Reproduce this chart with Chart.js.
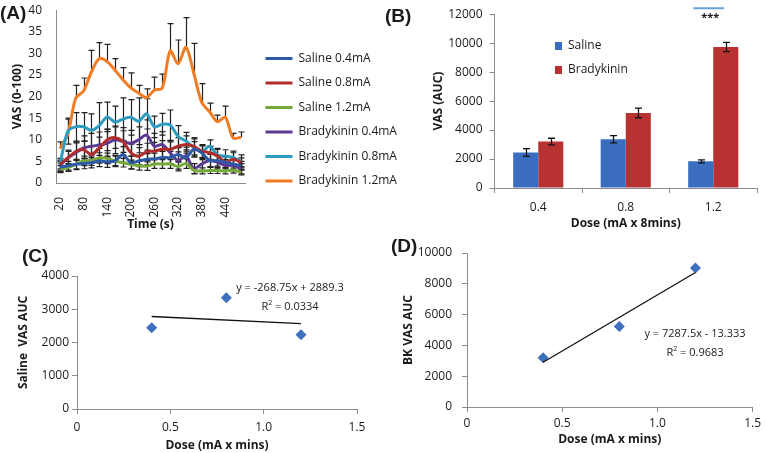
<!DOCTYPE html>
<html lang="en">
<head>
  <meta charset="UTF-8" />
  <title>VAS - saline vs bradykinin</title>
  <script src="https://cdn.jsdelivr.net/npm/chart.js"></script>
  <style>
    body { margin: 0; background: #fff; }
    #fig { position: relative; width: 765px; height: 453px; overflow: hidden; font-family: "Open Sans", sans-serif; color: #1a1a1a; }
    canvas { position: absolute; }
    .panel { position: absolute; font: bold 19px "Liberation Sans", Arial, sans-serif; line-height: 19px; }
    .eq { position: absolute; font-size: 11px; line-height: 16px; text-align: center; white-space: nowrap; }
  </style>
</head>
<body>
  <div id="fig">
    <canvas id="chartA" width="420" height="238" style="left:0;top:-3px"></canvas>
    <canvas id="chartB" width="385" height="235" style="left:380px;top:0"></canvas>
    <canvas id="chartC" width="380" height="218" style="left:0;top:235px"></canvas>
    <canvas id="chartD" width="385" height="218" style="left:380px;top:235px"></canvas>

    <div class="panel" style="left:0;top:3px">(A)</div>
    <div class="panel" style="left:385px;top:6px">(B)</div>
    <div class="panel" style="left:22px;top:246px">(C)</div>
    <div class="panel" style="left:391px;top:236px">(D)</div>

    <div class="eq" id="eqC" style="left:230px;top:279px;width:120px"></div>
    <div class="eq" id="eqD" style="left:635px;top:325px;width:120px"></div>
  </div>

  <script>
    // ---- (A) VAS over time ----
    const timeLabels = ['20','40','60','80','100','120','140','160','180','200','220','240',
                        '260','280','300','320','340','360','380','400','420','440','460','480'];
    const seriesNames = ['Saline 0.4mA', 'Saline 0.8mA', 'Saline 1.2mA',
                         'Bradykinin 0.4mA', 'Bradykinin 0.8mA', 'Bradykinin 1.2mA'];
    const saline04 = [3.6, 4, 4.3, 4.5, 4.7, 5.1, 4.9, 5.1, 6.6, 4.7, 5.1, 5.5, 5.6, 5.9, 5.9, 6.6, 5.9, 7.8, 7, 5.2, 5.2, 4.8, 4.4, 4];
    const saline08 = [4.3, 5.8, 7.3, 7.7, 6.6, 8.1, 10, 10.5, 9.6, 7, 6.2, 7.2, 7.4, 7.8, 7.8, 8.5, 8.9, 8.5, 7.4, 7, 6.3, 4.8, 5.5, 4.8];
    const saline12 = [3.2, 3.6, 4.3, 5.1, 5.2, 5.8, 5.7, 5.1, 4.7, 4.3, 4, 3.9, 4.4, 4.4, 4.4, 3.8, 4.5, 2.9, 2.8, 2.9, 2.9, 2.8, 3, 2.5];
    const bk04     = [4, 5.8, 7, 8.1, 8.5, 8.8, 9.2, 10, 9.6, 9.2, 10, 11.1, 8.5, 8.9, 7, 5.2, 6.3, 3.3, 4.4, 5.2, 4.8, 4.1, 4.1, 3.3];
    const bk08     = [4.2, 12, 13, 13, 12.2, 13.3, 15.3, 14.1, 14.8, 15.2, 14.3, 16, 13, 13.6, 13.4, 10.8, 9.7, 8.2, 7.2, 8.5, 6.5, 6.2, 5.9, 5];
    const bk12     = [8, 11.3, 19.6, 21.3, 25.7, 28.8, 28.1, 26.1, 23.9, 22, 20.8, 19.8, 21.5, 22, 30.6, 27.6, 31.4, 25.4, 18.7, 16.5, 14.2, 15.2, 10.4, 10.6];

    const saline04Err = [1, 1, 1.2, 1.2, 1.2, 1.3, 1.3, 1.3, 1.8, 1.5, 1.3, 1.3, 1.3, 1.4, 1.4, 1.6, 1.5, 1.8, 1.6, 1.4, 1.3, 1.2, 1.1, 1];
    const saline08Err = [1, 1.5, 2, 2, 2, 2.5, 2.5, 2.5, 2.5, 2, 2, 2, 2, 2, 2, 2, 2, 2, 1.5, 1.5, 1.5, 1.5, 1.5, 1];
    const saline12Err = [0.8, 0.9, 1, 1.1, 1.1, 1.2, 1.2, 1.1, 1, 1, 1, 1, 1, 1, 1, 1, 1.1, 0.7, 0.7, 0.7, 0.7, 0.7, 0.7, 0.6];
    const bk04Err     = [1, 1.8, 2.5, 2.8, 3, 3, 3.2, 3.2, 3.2, 3, 3, 3.5, 3, 3, 2.5, 2, 2, 1.2, 1.5, 1.5, 1.5, 1.3, 1.3, 1.2];
    const bk08Err     = [1.5, 3, 3.3, 3.3, 3.8, 5.3, 3.4, 3.7, 4.9, 4.1, 5.4, 3.5, 2.5, 2.5, 3.5, 2.5, 2, 2, 1.5, 1.5, 1.5, 1.5, 1.5, 1.5];
    const bk12Err     = [1.5, 3.5, 3, 3, 5, 3.7, 4, 2.7, 2.8, 3.5, 1.8, 2, 3, 3.2, 6.3, 5.5, 6.9, 6.9, 4.3, 2, 1.5, 2.6, 1.1, 1.2];

    // ---- (B) AUC by dose ----
    const doseLabels = ['0.4', '0.8', '1.2'];
    const salineAUC = [2455, 3360, 1840];
    const salineAUCErr = [270, 250, 100];
    const bkAUC = [3205, 5180, 9730];
    const bkAUCErr = [230, 330, 320];

    // ---- (C) / (D) dose-response scatter ----
    const doseX = [0.4, 0.8, 1.2];
    const salineScatter = [2445, 3348, 2230];
    const bkScatter = [3200, 5220, 9030];
    const salineFit = { slope: -268.75, intercept: 2889.3, r2: 0.0334 };
    const bkFit = { slope: 7287.5, intercept: -13.333, r2: 0.9683 };

    const lineColors = ['#2C5AA8', '#B22C2C', '#77A83A', '#5C3A92', '#2E9CC0', '#F07C24'];
    const barColors = ['#3A6CC0', '#B83232'];
    const textColor = '#1a1a1a';
    const axisColor = '#8c8c8c';
    const tickFont = { family: 'Open Sans', size: 12 };
    const titleFont = { family: 'Open Sans', size: 12, weight: 'bold' };

    // error bars drawn from dataset.err
    function drawErrors(chart, opts) {
      const ctx = chart.ctx;
      const yScale = chart.scales.y;
      ctx.save();
      ctx.strokeStyle = opts.color;
      ctx.lineWidth = opts.width;
      chart.data.datasets.forEach((ds, i) => {
        if (!ds.err) return;
        const meta = chart.getDatasetMeta(i);
        meta.data.forEach((el, j) => {
          const v = ds.data[j], e = ds.err[j];
          const x = Math.round(el.x) + 0.5;
          const top = yScale.getPixelForValue(v + e);
          const bot = ds.plusOnly ? yScale.getPixelForValue(v) : yScale.getPixelForValue(v - e);
          ctx.beginPath();
          ctx.moveTo(x, top); ctx.lineTo(x, bot);
          ctx.moveTo(x - opts.cap, top); ctx.lineTo(x + opts.cap, top);
          if (!ds.plusOnly) { ctx.moveTo(x - opts.cap, bot); ctx.lineTo(x + opts.cap, bot); }
          ctx.stroke();
        });
      });
      ctx.restore();
    }
    const errorBars = {
      id: 'errorBars',
      beforeDatasetsDraw(chart, args, opts) { if (opts.behind) drawErrors(chart, opts); },
      afterDatasetsDraw(chart, args, opts) { if (!opts.behind) drawErrors(chart, opts); }
    };

    // move the legend box to a fixed spot
    const legendPlace = {
      id: 'legendPlace',
      afterLayout(chart, args, opts) {
        const lg = chart.legend;
        if (!lg || opts.left == null) return;
        const w = lg.right - lg.left, h = lg.bottom - lg.top;
        lg.left = opts.left; lg.right = opts.left + w;
        lg.top = opts.top; lg.bottom = opts.top + h;
      }
    };

    // significance bar over one category
    const sigMark = {
      id: 'sigMark',
      afterDraw(chart, args, opts) {
        const { ctx, scales: { x, y } } = chart;
        const cx = x.getPixelForValue(opts.index);
        const ly = y.getPixelForValue(opts.lineAt);
        ctx.save();
        ctx.strokeStyle = '#6FA0DC';
        ctx.lineWidth = 2;
        ctx.beginPath();
        ctx.moveTo(cx - 20, ly); ctx.lineTo(cx + 11, ly);
        ctx.stroke();
        ctx.fillStyle = textColor;
        ctx.font = 'bold 11px "Open Sans"';
        ctx.textAlign = 'center';
        ctx.textBaseline = 'middle';
        ctx.fillText(opts.text, cx - 3, ly + 10);
        ctx.restore();
      }
    };

    const plainNum = v => String(v);

    // ---------- panel A ----------
    const seriesA = [saline04, saline08, saline12, bk04, bk08, bk12];
    const errA = [saline04Err, saline08Err, saline12Err, bk04Err, bk08Err, bk12Err];

    new Chart(document.getElementById('chartA'), {
      type: 'line',
      data: {
        labels: timeLabels,
        datasets: seriesA.map((d, i) => ({
          label: seriesNames[i],
          data: d,
          err: errA[i],
          plusOnly: i === 5,
          borderColor: lineColors[i],
          backgroundColor: lineColors[i],
          borderWidth: 3,
          pointRadius: 0,
          tension: 0.3
        }))
      },
      options: {
        responsive: false,
        animation: false,
        layout: { padding: { left: 6, top: 8, right: 175, bottom: 0 } },
        scales: {
          x: {
            offset: true,
            grid: { display: false },
            border: { color: axisColor },
            ticks: {
              color: textColor, font: tickFont, autoSkip: false,
              minRotation: 90, maxRotation: 90, padding: 6,
              // Excel shows every third time label
              callback: function (val, idx) { return idx % 3 === 0 ? this.getLabelForValue(val) : ''; }
            },
            title: { display: true, text: 'Time (s)', color: textColor, font: titleFont, padding: { top: 4, bottom: 3 } },
            afterFit: s => { s.height = 52; }
          },
          y: {
            min: 0, max: 40,
            grid: { display: false },
            border: { color: axisColor },
            ticks: { stepSize: 5, color: textColor, font: tickFont, padding: 6 },
            title: { display: true, text: 'VAS (0-100)', color: textColor, font: titleFont, padding: { top: 4, bottom: 4 } },
            afterFit: s => { s.width = 50; }
          }
        },
        plugins: {
          legend: {
            position: 'chartArea',
            align: 'start',
            labels: {
              color: textColor, font: tickFont,
              usePointStyle: true, pointStyle: 'line', pointStyleWidth: 27,
              padding: 12.5
            }
          },
          legendPlace: { left: 253, top: 43 },
          tooltip: { enabled: false },
          errorBars: { behind: true, color: '#222', width: 1.2, cap: 3 }
        }
      },
      plugins: [errorBars, legendPlace]
    });

    // ---------- panel B ----------
    new Chart(document.getElementById('chartB'), {
      type: 'bar',
      data: {
        labels: doseLabels,
        datasets: [
          { label: 'Saline', data: salineAUC, err: salineAUCErr, backgroundColor: barColors[0], borderWidth: 0,
            barPercentage: 1, categoryPercentage: 0.573 },
          { label: 'Bradykinin', data: bkAUC, err: bkAUCErr, backgroundColor: barColors[1], borderWidth: 0,
            barPercentage: 1, categoryPercentage: 0.573 }
        ]
      },
      options: {
        responsive: false,
        animation: false,
        layout: { padding: { left: 47, top: 12, right: 8, bottom: 0 } },
        scales: {
          x: {
            grid: { display: true, drawOnChartArea: false, drawTicks: true, tickLength: 5, color: axisColor },
            border: { color: axisColor },
            ticks: { color: textColor, font: tickFont, padding: 7 },
            title: { display: true, text: 'Dose (mA x 8mins)', color: textColor, font: titleFont, padding: { top: 4, bottom: 4 } },
            afterFit: s => { s.height = 47; }
          },
          y: {
            min: 0, max: 12000,
            grid: { display: true, drawOnChartArea: false, drawTicks: true, tickLength: 5, color: axisColor },
            border: { color: axisColor },
            ticks: { stepSize: 2000, color: textColor, font: tickFont, padding: 7, callback: plainNum },
            title: { display: true, text: 'VAS (AUC)', color: textColor, font: titleFont, padding: { top: 4, bottom: 4 } },
            afterFit: s => { s.width = 67.5; }
          }
        },
        plugins: {
          legend: {
            position: 'chartArea',
            align: 'start',
            labels: { color: textColor, font: tickFont, boxWidth: 7, boxHeight: 8, padding: 12 }
          },
          legendPlace: { left: 163, top: 28 },
          tooltip: { enabled: false },
          errorBars: { behind: false, color: '#111', width: 1.3, cap: 3.5 },
          sigMark: { index: 2, lineAt: 12410, text: '***' }
        }
      },
      plugins: [errorBars, legendPlace, sigMark]
    });

    // ---------- panels C and D ----------
    function scatterChart(id, yValues, fit, yMax, yStep, yTitle, pad, yWidth, xHeight, tickPadY, titleBottom, tickPadX) {
      const pts = doseX.map((x, i) => ({ x: x, y: yValues[i] }));
      const x0 = doseX[0], x1 = doseX[doseX.length - 1];
      const fitLine = [{ x: x0, y: fit.slope * x0 + fit.intercept }, { x: x1, y: fit.slope * x1 + fit.intercept }];
      return new Chart(document.getElementById(id), {
        type: 'scatter',
        data: {
          datasets: [
            { type: 'line', data: fitLine, borderColor: '#111', borderWidth: 1.3, pointRadius: 0 },
            { data: pts, pointStyle: 'rectRot', pointRadius: 5.5, backgroundColor: '#3F6FBF', borderColor: '#3F6FBF', borderWidth: 0 }
          ]
        },
        options: {
          responsive: false,
          animation: false,
          layout: { padding: pad },
          scales: {
            x: {
              type: 'linear', min: 0, max: 1.5,
              grid: { display: true, drawOnChartArea: false, drawTicks: true, tickLength: 5, color: axisColor },
              border: { color: axisColor },
              ticks: { stepSize: 0.5, color: textColor, font: tickFont, padding: tickPadX },
              title: { display: true, text: 'Dose (mA x mins)', color: textColor, font: titleFont, padding: { top: 4, bottom: titleBottom } },
              afterFit: s => { s.height = xHeight; }
            },
            y: {
              min: 0, max: yMax,
              grid: { display: true, drawOnChartArea: false, drawTicks: true, tickLength: 5, color: axisColor },
              border: { color: axisColor },
              ticks: { stepSize: yStep, color: textColor, font: tickFont, padding: tickPadY, callback: plainNum },
              title: { display: true, text: yTitle, color: textColor, font: titleFont, padding: { top: 4, bottom: 4 } },
              afterFit: s => { s.width = yWidth; }
            }
          },
          plugins: { legend: { display: false }, tooltip: { enabled: false } }
        }
      });
    }

    scatterChart('chartC', salineScatter, salineFit, 4000, 1000, 'Saline  VAS AUC',
      { left: 12, top: 41, right: 23, bottom: 0 }, 65, 44, 3, 0, 6);
    scatterChart('chartD', bkScatter, bkFit, 10000, 2000, 'BK VAS AUC',
      { left: 17, top: 18, right: 9, bottom: 0 }, 70, 46, 10, 6, 4);

    function fitText(fit) {
      const sign = fit.intercept < 0 ? ' - ' : ' + ';
      return 'y = ' + fit.slope + 'x' + sign + Math.abs(fit.intercept) + '<br>R<sup style="font-size:7px">2</sup> = ' + fit.r2;
    }
    document.getElementById('eqC').innerHTML = fitText(salineFit);
    document.getElementById('eqD').innerHTML = fitText(bkFit);
  </script>
</body>
</html>
